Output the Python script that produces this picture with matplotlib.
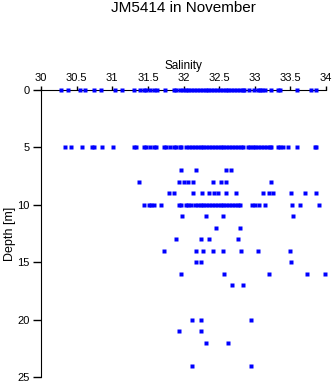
import numpy as np
import matplotlib
matplotlib.use('Agg')
import matplotlib.pyplot as plt

plt.rcParams['font.family'] = ['Liberation Sans', 'DejaVu Sans']

# salinity samples, one list per depth [m]
sal_0 = [30.28, 30.38, 30.55, 30.62, 30.74, 30.84, 31.04, 31.13, 31.30, 31.39,
         31.44, 31.48, 31.53, 31.58, 31.63, 31.74, 31.86, 31.90, 31.95, 31.99,
         32.03, 32.07, 32.11, 32.15, 32.19, 32.23, 32.27, 32.31, 32.35, 32.39,
         32.43, 32.47, 32.51, 32.55, 32.59, 32.63, 32.67, 32.71, 32.75, 32.79,
         32.83, 32.85, 32.92, 32.99, 33.05, 33.08, 33.10, 33.15, 33.23, 33.33,
         33.36, 33.59, 33.79, 33.86]
sal_5 = [30.34, 30.42, 30.58, 30.71, 30.74, 30.85, 31.01, 31.30, 31.34, 31.44,
         31.48, 31.53, 31.58, 31.62, 31.72, 31.76, 31.81, 31.86, 31.90, 31.95,
         31.97, 32.04, 32.08, 32.12, 32.16, 32.20, 32.24, 32.28, 32.32, 32.36,
         32.40, 32.44, 32.48, 32.52, 32.56, 32.60, 32.64, 32.68, 32.72, 32.76,
         32.80, 32.84, 32.90, 32.94, 32.97, 33.00, 33.05, 33.09, 33.13, 33.17,
         33.21, 33.23, 33.32, 33.36, 33.39, 33.47, 33.59, 33.84, 33.86]
sal_7 = [31.97, 32.18, 32.59, 32.67]
sal_8 = [31.37, 31.93, 32.00, 32.07, 32.14, 32.41, 32.53, 32.59, 33.23]
sal_9 = [31.80, 31.86, 32.14, 32.26, 32.36, 32.43, 32.49, 32.60, 32.73, 33.11,
         33.20, 33.26, 33.51, 33.70, 33.86]
sal_10 = [31.44, 31.52, 31.55, 31.59, 31.68, 31.93, 31.96, 32.04, 32.07, 32.11,
          32.16, 32.20, 32.24, 32.28, 32.32, 32.36, 32.40, 32.44, 32.48, 32.52,
          32.56, 32.60, 32.64, 32.68, 32.72, 32.76, 32.79, 32.96, 33.00, 33.06,
          33.14, 33.52, 33.64, 33.90]
sal_11 = [31.98, 32.31, 32.56, 33.54]
sal_12 = [32.46, 32.79]
sal_13 = [31.89, 32.25, 32.36, 32.76]
sal_14 = [31.72, 32.17, 32.27, 32.42, 32.56, 32.81, 33.04, 33.50]
sal_15 = [32.18, 32.25, 33.51]
sal_16 = [31.97, 32.57, 33.20, 33.74, 33.98]
sal_17 = [32.685, 32.84]
sal_20 = [32.115, 32.25, 32.95]
sal_21 = [31.94, 32.25]
sal_22 = [32.32, 32.63]
sal_24 = [32.115, 32.95]

depths = [0, 5, 7, 8, 9, 10, 11, 12, 13, 14, 15, 16, 17, 20, 21, 22, 24]
samples = [sal_0, sal_5, sal_7, sal_8, sal_9, sal_10, sal_11, sal_12, sal_13,
           sal_14, sal_15, sal_16, sal_17, sal_20, sal_21, sal_22, sal_24]

fig = plt.figure(figsize=(3.35, 3.84), dpi=100)
ax = fig.add_axes([41/335, 1-377/384, 285/335, 287/384])

for d, s in zip(depths, samples):
    ax.plot(s, np.full(len(s), d), linestyle='none', marker='s', ms=2.5,
            mec='none', color='#0000ff', clip_on=False, antialiased=False,
            zorder=3)

ax.set_xlim(30, 34)
ax.set_ylim(25, 0)
ax.set_xticks([30, 30.5, 31, 31.5, 32, 32.5, 33, 33.5, 34])
ax.set_xticklabels(['30', '30.5', '31', '31.5', '32', '32.5', '33', '33.5', '34'])
ax.set_yticks([0, 5, 10, 15, 20, 25])
ax.xaxis.tick_top()
ax.xaxis.set_label_position('top')
ax.spines['right'].set_visible(False)
ax.spines['bottom'].set_visible(False)
ax.tick_params(axis='x', direction='out', length=3, width=1, labelsize=8, pad=2)
ax.tick_params(axis='y', direction='out', length=6, width=1, labelsize=8, pad=2)
ax.set_xlabel('Salinity', fontsize=8.5, labelpad=3)
ax.set_ylabel('Depth [m]', fontsize=9, labelpad=1)
fig.suptitle('JM5414 in November', fontsize=11, x=183.5/335, y=1-1/384, va='top')

fig.savefig('out.png', dpi=100)
